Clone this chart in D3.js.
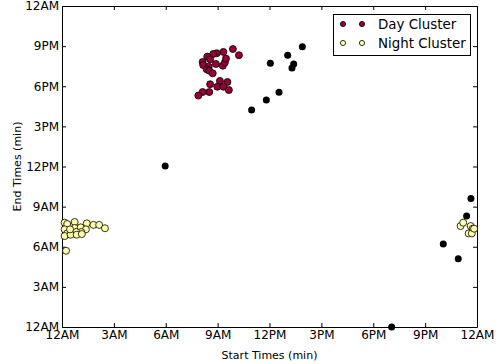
<!DOCTYPE html>
<html>
<head>
<meta charset="utf-8">
<script src="https://cdn.jsdelivr.net/npm/d3@7"></script>
<style>
  body { margin: 0; background: #fff; }
  svg { font-family: "DejaVu Sans", sans-serif; }
</style>
</head>
<body>
<div id="chart"></div>
<script>
// start / end times in minutes after midnight
const dayStart = [593, 614, 560, 537, 525, 504, 514, 488, 490, 534, 558, 565, 569, 509, 502, 511, 523, 514, 548, 574, 539, 560, 579, 511, 488, 473];
const dayEnd   = [1247, 1219, 1234, 1228, 1225, 1213, 1201, 1189, 1175, 1180, 1172, 1186, 1204, 1168, 1156, 1150, 1138, 1089, 1104, 1099, 1078, 1078, 1063, 1054, 1054, 1038];

const nightStart = [9, 18, 44, 86, 109, 129, 149, 9, 44, 65, 83, 67, 49, 18, 9, 30, 51, 69, 14, 28, 1383, 1392, 1418, 1425, 1411, 1422, 1430];
const nightEnd   = [468, 462, 471, 465, 458, 458, 443, 438, 444, 447, 438, 426, 426, 420, 408, 414, 414, 417, 342, 438, 453, 468, 453, 441, 420, 420, 441];

const otherStart = [834, 783, 723, 804, 798, 753, 709, 658, 358, 1144, 1419, 1404, 1323, 1375];
const otherEnd   = [1257, 1219, 1183, 1180, 1162, 1053, 1018, 973, 722, 0, 577, 498, 372, 306];

const tickLabels = ['12AM', '3AM', '6AM', '9AM', '12PM', '3PM', '6PM', '9PM', '12AM'];
const legendNames = ['Day Cluster', 'Night Cluster'];
const legendColors = ['#990033', '#ffffaa'];

const width = 499, height = 364;
const margin = { left: 62, right: 22, top: 6, bottom: 37 };

const svg = d3.select('#chart').append('svg')
  .attr('width', width)
  .attr('height', height);

const x = d3.scaleLinear().domain([0, 1440]).range([margin.left, width - margin.right]);
const y = d3.scaleLinear().domain([0, 1440]).range([height - margin.bottom, margin.top]);

const tickVals = d3.range(0, 1441, 180);
const fmt = (d) => tickLabels[d / 180];

// ----------- AXES ------------
const axB = svg.append('g')
  .attr('transform', `translate(0, ${y(0)})`)
  .call(d3.axisBottom(x).tickValues(tickVals).tickFormat(fmt).tickSizeInner(-4).tickSizeOuter(0).tickPadding(5));
const axT = svg.append('g')
  .attr('transform', `translate(0, ${y(1440)})`)
  .call(d3.axisTop(x).tickValues(tickVals).tickFormat('').tickSizeInner(-4).tickSizeOuter(0));
const axL = svg.append('g')
  .attr('transform', `translate(${x(0)}, 0)`)
  .call(d3.axisLeft(y).tickValues(tickVals).tickFormat(fmt).tickSizeInner(-4).tickSizeOuter(0).tickPadding(3));
const axR = svg.append('g')
  .attr('transform', `translate(${x(1440)}, 0)`)
  .call(d3.axisRight(y).tickValues(tickVals).tickFormat('').tickSizeInner(-4).tickSizeOuter(0));

[axB, axT, axL, axR].forEach((a) => {
  a.select('.domain').attr('stroke', '#000').attr('stroke-width', 1);
  a.selectAll('.tick line').attr('stroke', '#000');
  a.selectAll('text').attr('font-size', 12).attr('font-family', '"DejaVu Sans", sans-serif').attr('fill', '#000');
});
axB.selectAll('text').attr('dy', '0.6em');

// axis titles
svg.append('text')
  .attr('x', (x(0) + x(1440)) / 2)
  .attr('y', 359)
  .attr('text-anchor', 'middle')
  .attr('font-size', 11)
  .text('Start Times (min)');

svg.append('text')
  .attr('transform', `translate(21, ${(y(0) + y(1440)) / 2}) rotate(-90)`)
  .attr('text-anchor', 'middle')
  .attr('font-size', 11)
  .text('End Times (min)');

// ----------- POINTS ------------
const g = svg.append('g');

g.selectAll('.other')
  .data(otherStart.map((s, i) => [s, otherEnd[i]]))
  .enter().append('circle')
  .attr('class', 'other')
  .attr('cx', (d) => x(d[0]))
  .attr('cy', (d) => y(d[1]))
  .attr('r', 3.5)
  .attr('fill', '#000');

g.selectAll('.day')
  .data(dayStart.map((s, i) => [s, dayEnd[i]]))
  .enter().append('circle')
  .attr('class', 'day')
  .attr('cx', (d) => x(d[0]))
  .attr('cy', (d) => y(d[1]))
  .attr('r', 3.5)
  .attr('fill', legendColors[0])
  .attr('stroke', '#000')
  .attr('stroke-width', 0.8);

g.selectAll('.night')
  .data(nightStart.map((s, i) => [s, nightEnd[i]]))
  .enter().append('circle')
  .attr('class', 'night')
  .attr('cx', (d) => x(d[0]))
  .attr('cy', (d) => y(d[1]))
  .attr('r', 3.5)
  .attr('fill', legendColors[1])
  .attr('stroke', '#000')
  .attr('stroke-width', 0.8);

// ----------- LEGEND ------------
const leg = svg.append('g');
leg.append('rect')
  .attr('x', 333.5).attr('y', 14.5)
  .attr('width', 137).attr('height', 41)
  .attr('fill', '#fff').attr('stroke', '#000').attr('stroke-width', 1);

legendNames.forEach((name, i) => {
  const cy = 24 + i * 19;
  [343, 362].forEach((cx) => {
    leg.append('circle')
      .attr('cx', cx).attr('cy', cy).attr('r', 2.6)
      .attr('fill', legendColors[i])
      .attr('stroke', '#000').attr('stroke-width', 0.8);
  });
  leg.append('text')
    .attr('x', 378).attr('y', cy)
    .attr('dy', '0.36em')
    .attr('font-size', 13.4)
    .text(name);
});
</script>
</body>
</html>
